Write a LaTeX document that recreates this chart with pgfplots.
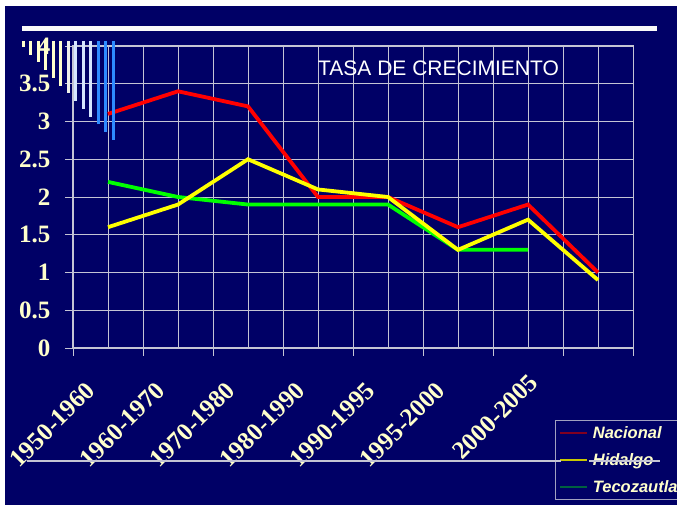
\documentclass[border=0pt]{standalone}
\usepackage{pgfplots}
\pgfplotsset{compat=1.18}
\usepackage{fontspec}
\setmainfont{Liberation Serif}
\newfontfamily\arial{Liberation Sans}
\definecolor{navy}{HTML}{000066}
\definecolor{cream}{HTML}{FFFFCC}
\definecolor{gridc}{HTML}{C4C4D4}
\definecolor{natred}{HTML}{FF0000}
\definecolor{hidyel}{HTML}{FFFF00}
\definecolor{tecgrn}{HTML}{00FF00}
\definecolor{legred}{HTML}{800020}
\definecolor{legyel}{HTML}{C8C800}
\definecolor{leggrn}{HTML}{006040}
\definecolor{legbord}{HTML}{A0A0C0}
\definecolor{stripeA}{HTML}{FFFFCC}
\definecolor{stripeW}{HTML}{EEF0E8}
\definecolor{stripeB}{HTML}{D6E6FF}
\definecolor{stripeC}{HTML}{2E8BFF}
\begin{document}
\begin{tikzpicture}[x=1pt,y=1pt]
\useasboundingbox (0,0) rectangle (677,505);
\fill[white] (0,0) rectangle (677,505);
\fill[navy] (5,0) rectangle (677,499);
\begin{axis}[
  at={(73pt,157pt)}, anchor=south west,
  width=560pt, height=302pt, scale only axis,
  xmin=0, xmax=8, ymin=0, ymax=4,
  xtick={0,...,8},
  xticklabels={1950-1960,1960-1970,1970-1980,1980-1990,1990-1995,1995-2000,,,},
  minor xtick={0.5,1.5,...,7.5},
  ytick={0,0.5,...,4},
  grid=both,
  major grid style={gridc, line width=0.7pt},
  minor grid style={gridc, line width=0.7pt},
  axis line style={gridc, line width=1pt},
  tick align=outside, tick pos=left,
  major tick length=8pt, minor tick length=0pt,
  tick style={gridc, line width=0.7pt},
  /pgf/number format/assume math mode=true,
  tick label style={text=cream, font=\bfseries\fontsize{25}{25}\selectfont},
  yticklabel style={xshift=-11pt},
  xticklabel style={xshift=20pt, yshift=-28pt, rotate=45, anchor=east},
  extra x ticks={6.33},
  extra x tick labels={2000-2005},
  extra x tick style={grid=none, major tick length=0pt},
  legend style={at={(0.8607,-0.2384)}, anchor=north west, fill=navy,
    draw=legbord, line width=0.8pt, text=cream,
    font=\arial\bfseries\itshape\fontsize{16.5}{16.5}\selectfont,
    row sep=9.5pt, inner sep=4pt},
  legend cell align=left,
  legend image code/.code={\draw[#1] (0pt,0pt) -- (27pt,0pt);},
]
\addplot[natred, line width=3.8pt, forget plot] coordinates
  {(0.5,3.1) (1.5,3.4) (2.5,3.2) (3.5,2.0) (4.5,2.0) (5.5,1.6) (6.5,1.9) (7.5,1.0)};
\addplot[tecgrn, line width=3.8pt, forget plot] coordinates
  {(0.5,2.2) (1.5,2.0) (2.5,1.9) (3.5,1.9) (4.5,1.9) (5.5,1.3) (6.5,1.3)};
\addplot[hidyel, line width=3.8pt, forget plot] coordinates
  {(0.5,1.6) (1.5,1.9) (2.5,2.5) (3.5,2.1) (4.5,2.0) (5.5,1.3) (6.5,1.7) (7.5,0.9)};
\addlegendimage{legred, line width=1.5pt}
\addlegendentry{\hspace{3pt}Nacional}
\addlegendimage{legyel, line width=1.5pt}
\addlegendentry{\hspace{3pt}Hidalgo}
\addlegendimage{leggrn, line width=1.5pt}
\addlegendentry{\hspace{3pt}Tecozautla}
\end{axis}
% decorative slide template elements
\draw[white!95!gray, line width=5pt] (22,476) -- (657,476);
\foreach \xx/\yb/\c in {23/458/stripeA, 30.5/450.25/stripeA, 38/442.5/stripeA,
  45.5/434.75/stripeA, 53/427/stripeA, 60.5/419.25/stripeA, 68/411.5/stripeW,
  75.5/403.75/stripeB, 83/396/stripeB, 90.5/388.25/stripeB, 98/380.5/stripeC,
  105.5/372.75/stripeC, 113/365/stripeC}
  {\draw[\c, line width=3pt] (\xx,464) -- (\xx,\yb);}
\draw[gridc, line width=1.1pt] (27,44) -- (561,44);
\draw[gridc, line width=1.1pt] (589,44) -- (660,44);
\node[anchor=base west, text=white, inner sep=0pt,
  font=\arial\fontsize{21}{21}\selectfont] at (318,429) {TASA DE CRECIMIENTO};
\end{tikzpicture}
\end{document}
